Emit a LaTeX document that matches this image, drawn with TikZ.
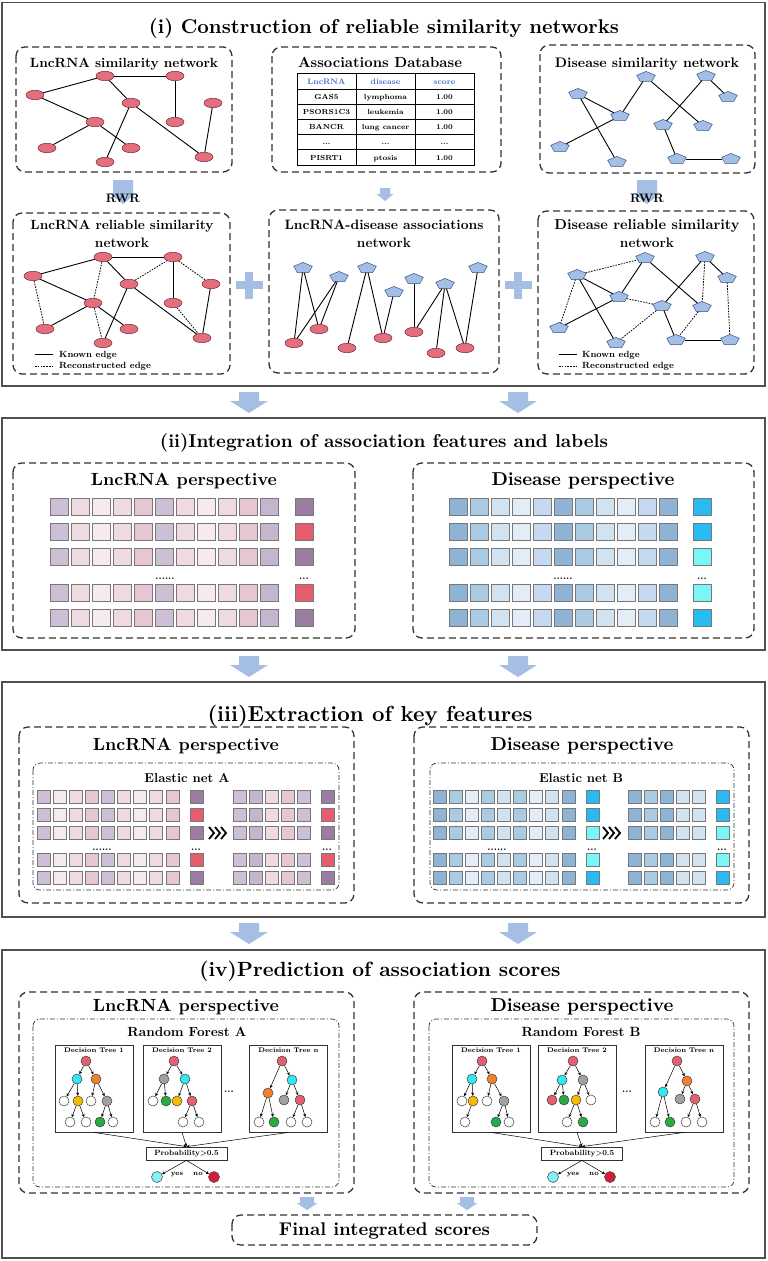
\documentclass[tikz,border=0pt]{standalone}
\usepackage{fontspec}
\usepackage{graphicx}
\usetikzlibrary{shapes.geometric,arrows.meta}

\definecolor{secline}{RGB}{80,80,80}
\definecolor{boxline}{RGB}{50,50,50}
\definecolor{arrblue}{RGB}{164,191,227}
\definecolor{lncfill}{RGB}{226,110,126}
\definecolor{lncdraw}{RGB}{120,40,55}
\definecolor{disfill}{RGB}{163,191,230}
\definecolor{disdraw}{RGB}{55,85,135}
\definecolor{hdrblue}{RGB}{70,110,205}
\definecolor{cellgray}{RGB}{120,120,120}
\definecolor{lv}{RGB}{205,192,214}
\definecolor{lw}{RGB}{196,182,206}
\definecolor{pa}{RGB}{247,234,239}
\definecolor{pb}{RGB}{240,218,226}
\definecolor{pc}{RGB}{231,198,211}
\definecolor{lpur}{RGB}{155,125,162}
\definecolor{lred}{RGB}{228,94,110}
\definecolor{ba}{RGB}{143,179,213}
\definecolor{bb}{RGB}{171,203,227}
\definecolor{bc}{RGB}{209,226,241}
\definecolor{bd}{RGB}{226,237,247}
\definecolor{be}{RGB}{199,217,240}
\definecolor{dblue}{RGB}{40,186,240}
\definecolor{dcyan}{RGB}{122,246,246}
\definecolor{tred}{RGB}{226,96,112}
\definecolor{tcyan}{RGB}{50,232,242}
\definecolor{torange}{RGB}{240,128,50}
\definecolor{tyellow}{RGB}{246,186,0}
\definecolor{tgray}{RGB}{160,160,160}
\definecolor{tgreen}{RGB}{40,170,70}
\definecolor{yescol}{RGB}{130,240,246}
\definecolor{nocol}{RGB}{212,30,60}

\newcommand{\fitw}[2]{\resizebox{#1pt}{!}{\bfseries #2}}
\newcommand{\myarrow}[6]{\fill[arrblue] ({#1-#3/2},#2) -- ({#1+#3/2},#2) -- ({#1+#3/2},{#2+#4}) -- ({#1+#5/2},{#2+#4}) -- (#1,{#2+#4+#6}) -- ({#1-#5/2},{#2+#4}) -- ({#1-#3/2},{#2+#4}) -- cycle;}
\newcommand{\cellrow}[6]{\foreach \cc [count=\kk from 0] in {#6} {\filldraw[fill=\cc,draw=cellgray,line width=0.6pt] ({#1+\kk*#3},{#2-#5/2}) rectangle ++(#4,#5);}}
\newcommand{\chev}[2]{\foreach \kk in {0,1,2} {\draw[line width=1.8pt,line join=miter] ({#1+\kk*6},{#2-6}) -- ({#1+\kk*6+5},#2) -- ({#1+\kk*6},{#2+6});}}
\newcommand{\plussign}[2]{\fill[arrblue] ({#1-13.5},{#2-4}) rectangle ({#1+13.5},{#2+4}); \fill[arrblue] ({#1-4},{#2-13.5}) rectangle ({#1+4},{#2+13.5});}

\tikzset{
 every node/.style={inner sep=0pt},
 secbox/.style={draw=secline,line width=1.5pt,fill=white},
 dbox/.style={draw=boxline,line width=1.3pt,dash pattern=on 7pt off 4pt,rounded corners=9pt},
 ddbox/.style={draw=boxline,line width=0.7pt,dash pattern=on 5pt off 2pt on 1pt off 2pt,rounded corners=7pt},
 lnode/.style={ellipse,draw=lncdraw,fill=lncfill,line width=0.5pt,minimum width=18pt,minimum height=9.5pt},
 dnode/.style={regular polygon,regular polygon sides=5,draw=disdraw,fill=disfill,line width=0.5pt,minimum size=19.5pt,yscale=0.57,transform shape},
 kedge/.style={line width=0.9pt},
 redge/.style={line width=0.8pt,dash pattern=on 1.6pt off 1.2pt},
 lab/.style={anchor=base,font=\bfseries},
 small/.style={anchor=base,font=\fontsize{13.7}{16}\selectfont\bfseries},
 tn/.style={circle,draw=black!75,line width=0.5pt,minimum size=10pt,fill=white},
 tarr/.style={-{Stealth[length=3.2pt,width=3pt]},line width=0.5pt},
 dtbox/.style={draw=black!80,line width=0.8pt,minimum width=78pt,minimum height=87pt},
 dtlab/.style={anchor=base,font=\fontsize{6.8}{8}\selectfont\bfseries},
 tbh/.style={anchor=base,font=\fontsize{8}{9}\selectfont\bfseries,text=hdrblue},
 tbt/.style={anchor=base,font=\fontsize{7.3}{8}\selectfont\bfseries},
 leg/.style={anchor=base west,font=\fontsize{9}{10}\selectfont\bfseries},
 dots/.style={anchor=base,font=\fontsize{10}{12}\selectfont\bfseries},
 probbox/.style={draw=black!80,line width=0.8pt,minimum width=81pt,minimum height=13pt,font=\fontsize{7.6}{9}\selectfont\bfseries},
}

\begin{document}
\begin{tikzpicture}[x=1pt,y=-1pt]
\useasboundingbox (0,0) rectangle (768,1261);
\fill[white] (0,0) rectangle (768,1261);

% ---------- section boxes ----------
\draw[secbox] (2,2.5) rectangle (765,386);
\draw[secbox] (2,418) rectangle (765,650);
\draw[secbox] (2,682) rectangle (765,917);
\draw[secbox] (2,950) rectangle (765,1258);

% arrows between sections
\myarrow{249}{392}{20}{9}{38}{12}
\myarrow{518}{392}{20}{9}{38}{12}
\myarrow{249}{656}{20}{9}{38}{12}
\myarrow{518}{656}{20}{9}{38}{12}
\myarrow{249}{923}{20}{9}{38}{12}
\myarrow{518}{923}{20}{9}{38}{12}

% ================= Section (i) =================
\node[lab] (ti) at (384,33) {\fitw{470}{(i) Construction of reliable similarity networks}};

\draw[dbox] (16,47) rectangle (232,172);
\draw[dbox] (272,47) rectangle (501,172);
\draw[dbox] (540,45) rectangle (755,173);
\draw[dbox] (13,213) rectangle (230,374);
\draw[dbox] (269,210) rectangle (499,373);
\draw[dbox] (538,211) rectangle (754,374);

\node[lab] (tls) at (124,67) {\fitw{188}{LncRNA similarity network}};
\node[lab] (tad) at (380,67) {\fitw{164}{Associations Database}};
\node[lab] (tds) at (647,67) {\fitw{184}{Disease similarity network}};

% RWR arrows
\myarrow{123}{180}{20}{13}{28}{11}
\myarrow{647}{180}{20}{13}{28}{11}
\myarrow{385}{188}{10}{6}{17}{7}
\node[lab] (rwra) at (123,202) {\fitw{34}{RWR}};
\node[lab] (rwrb) at (647,202) {\fitw{34}{RWR}};

\node[lab] (tlr) at (122,229.5) {\fitw{183}{LncRNA reliable similarity}};
\node[small] (tlr2) at (122,247) {network};
\node[lab] (tan) at (384,229.5) {\fitw{199}{LncRNA-disease associations}};
\node[small] (tan2) at (384,247) {network};
\node[lab] (tdr) at (647,229.5) {\fitw{185}{Disease reliable similarity}};
\node[small] (tdr2) at (647,247) {network};

% plus signs
\plussign{249}{285}
\plussign{518}{285}

% --- LncRNA similarity network (upper)
\foreach \n/\x/\y in {1/105/76,2/175/76,3/35/95,4/131/103,5/213/103,6/175/122,7/95/122,8/47/148,9/131/148,10/105/162,11/204/157}
  \node[lnode] (ua\n) at (\x,\y) {};
\foreach \u/\v in {1/2,1/3,1/4,2/6,3/7,7/8,7/9,4/10,4/11,5/11}
  \draw[kedge] (ua\u) -- (ua\v);

% --- LncRNA reliable similarity network (lower)
\foreach \n/\x/\y in {1/103/257,2/173/257,3/33/276,4/129/284,5/211/284,6/173/303,7/93/303,8/45/329,9/129/329,10/103/343,11/202/338}
  \node[lnode] (lb\n) at (\x,\y) {};
\foreach \u/\v in {1/2,1/3,1/4,2/6,3/7,7/8,7/9,4/10,4/11,5/11}
  \draw[kedge] (lb\u) -- (lb\v);
\foreach \u/\v in {3/8,1/7,7/10,4/2,2/5,6/11}
  \draw[redge] (lb\u) -- (lb\v);

% --- Disease similarity network (upper)
\foreach \n/\x/\y in {1/578/94,2/646/77,3/706/76,4/728/97,5/620/116,6/663/125,7/703/126,8/560/147,9/617/162,10/677/159,11/731/159}
  \node[dnode] (da\n) at (\x,\y) {};
\foreach \u/\v in {1/5,1/9,5/2,5/8,2/7,3/4,3/6,6/10,10/11}
  \draw[kedge] (da\u) -- (da\v);

% --- Disease reliable similarity network (lower)
\foreach \n/\x/\y in {1/577/275,2/645/258,3/705/257,4/727/278,5/619/297,6/662/306,7/702/307,8/559/328,9/616/343,10/676/340,11/730/340}
  \node[dnode] (db\n) at (\x,\y) {};
\foreach \u/\v in {1/5,1/9,5/2,5/8,2/7,3/4,3/6,6/10,10/11}
  \draw[kedge] (db\u) -- (db\v);
\foreach \u/\v in {1/2,1/8,5/6,6/9,7/10,3/7,4/11}
  \draw[redge] (db\u) -- (db\v);

% --- LncRNA-disease associations network
\foreach \n/\x/\y in {1/303/268,2/339/277,3/367/268,4/394/292,5/414/279,6/445/284,7/478/268}
  \node[dnode] (mp\n) at (\x,\y) {};
\foreach \n/\x/\y in {1/294/343,2/319/329,3/347/348,4/383/338,5/414/332,6/436/353,7/465/348}
  \node[lnode] (mc\n) at (\x,\y) {};
\foreach \u/\v in {1/1,1/2,2/1,2/2,3/3,3/4,4/4,5/5,6/5,6/6,6/7,7/7}
  \draw[kedge] (mp\u) -- (mc\v);

% legends
\draw[kedge] (35,354) -- (53,354);
\draw[redge] (35,366) -- (53,366);
\node[leg] (lka) at (59,357) {Known edge};
\node[leg] (lra) at (59,368.7) {Reconstructed edge};
\draw[kedge] (559,354) -- (577,354);
\draw[redge] (559,366) -- (577,366);
\node[leg] (lkb) at (582,357) {Known edge};
\node[leg] (lrb) at (582,368.7) {Reconstructed edge};

% --- Associations table
\draw[line width=0.9pt] (297,73) rectangle (474,165);
\foreach \yy in {89,104,119,134,149} \draw[line width=0.9pt] (297,\yy) -- (474,\yy);
\foreach \xx in {356,415} \draw[line width=0.9pt] (\xx,73) -- (\xx,165);
\node[tbh] (th1) at (326.5,84) {LncRNA};
\node[tbh] (th2) at (385.5,84) {disease};
\node[tbh] (th3) at (444.5,84) {score};
\foreach \r/\yy/\aa/\bb/\ccc in {1/99.5/GAS5/lymphoma/1.00,2/114.5/PSORS1C3/leukemia/1.00,3/129.5/BANCR/lung cancer/1.00,5/160/PISRT1/ptosis/1.00}
{
  \node[tbt] (tr\r a) at (326.5,\yy) {\aa};
  \node[tbt] (tr\r b) at (385.5,\yy) {\bb};
  \node[tbt] (tr\r c) at (444.5,\yy) {\ccc};
}
\node[tbt] (tr4a) at (326.5,144) {...};
\node[tbt] (tr4b) at (385.5,144) {...};
\node[tbt] (tr4c) at (444.5,144) {...};

% ================= Section (ii) =================
\node[lab] (tii) at (384,447) {\fitw{448}{(ii)Integration of association features and labels}};
\draw[dbox] (13,463) rectangle (355,638);
\draw[dbox] (413,463) rectangle (754,638);
\node[lab] (pl2) at (184,485) {\fitw{186}{LncRNA perspective}};
\node[lab] (pd2) at (583,485) {\fitw{183}{Disease perspective}};
\foreach \yy/\lc in {507/lpur,532/lred,557/lpur,593/lred,618/lpur} {
  \cellrow{50}{\yy}{21}{18}{17}{lv,pb,pa,pb,pc,lv,pb,pa,pb,pc,lw}
  \filldraw[fill=\lc,draw=cellgray,line width=0.6pt] (295,{\yy-8.5}) rectangle ++(18,17);
}
\foreach \yy/\lc in {507/dblue,532/dblue,557/dcyan,593/dcyan,618/dblue} {
  \cellrow{449}{\yy}{21}{18}{17}{ba,bb,bc,bd,be,ba,bb,bc,bd,be,ba}
  \filldraw[fill=\lc,draw=cellgray,line width=0.6pt] (693,{\yy-8.5}) rectangle ++(18,17);
}
\node[dots] (d2a) at (165,579) {......};
\node[dots] (d2b) at (304,579) {...};
\node[dots] (d2c) at (563,579) {......};
\node[dots] (d2d) at (702,579) {...};

% ================= Section (iii) =================
\node[lab] (tiii) at (370,721) {\fitw{325}{(iii)Extraction of key features}};
\draw[dbox] (19,727) rectangle (354,903);
\draw[dbox] (414,727) rectangle (749,903);
\draw[ddbox] (33,763) rectangle (339,890);
\draw[ddbox] (430,763) rectangle (734,890);
\node[lab] (pl3) at (186,750) {\fitw{186}{LncRNA perspective}};
\node[lab] (pd3) at (582,750) {\fitw{183}{Disease perspective}};
\node[lab] (ena) at (187,782.7) {\fitw{85}{Elastic net A}};
\node[lab] (enb) at (581,782.7) {\fitw{84}{Elastic net B}};
\foreach \yy/\lc in {797/lpur,815/lred,833/lpur,860/lred,878/lpur} {
  \cellrow{37}{\yy}{16.1}{13}{12.5}{lv,pa,pb,pc,lv,pb,pa,pb,pc}
  \filldraw[fill=\lc,draw=cellgray,line width=0.6pt] (190,{\yy-6.25}) rectangle ++(13,12.5);
  \cellrow{233}{\yy}{16.1}{13}{12.5}{lv,lw,pb,pc,lv}
  \filldraw[fill=\lc,draw=cellgray,line width=0.6pt] (321,{\yy-6.25}) rectangle ++(13,12.5);
}
\foreach \yy/\lc in {797/dblue,815/dblue,833/dcyan,860/dcyan,878/dblue} {
  \cellrow{433}{\yy}{16.1}{13}{12.5}{ba,bb,bd,bb,bc,bb,bd,bc,ba}
  \filldraw[fill=\lc,draw=cellgray,line width=0.6pt] (586,{\yy-6.25}) rectangle ++(13,12.5);
  \cellrow{628}{\yy}{16.1}{13}{12.5}{ba,bb,ba,bc,bc}
  \filldraw[fill=\lc,draw=cellgray,line width=0.6pt] (716,{\yy-6.25}) rectangle ++(13,12.5);
}
\chev{209}{833}
\chev{603}{833}
\node[dots] (d3a) at (102,850) {......};
\node[dots] (d3b) at (196,850) {...};
\node[dots] (d3c) at (327,850) {...};
\node[dots] (d3d) at (497,850) {......};
\node[dots] (d3e) at (592,850) {...};
\node[dots] (d3f) at (722,850) {...};

% ================= Section (iv) =================
\node[lab] (tiv) at (380,976.7) {\fitw{361}{(iv)Prediction of association scores}};
\draw[dbox] (19,992) rectangle (354,1193);
\draw[dbox] (414,992) rectangle (749,1193);
\draw[ddbox] (33,1019) rectangle (339,1187);
\draw[ddbox] (429,1019) rectangle (734,1187);
\node[lab] (pl4) at (186,1011.7) {\fitw{186}{LncRNA perspective}};
\node[lab] (pd4) at (582,1011.7) {\fitw{183}{Disease perspective}};
\node[lab] (rfa) at (187,1036) {\fitw{119}{Random Forest A}};
\node[lab] (rfb) at (581,1036) {\fitw{119}{Random Forest B}};

% decision tree boxes
\foreach \n/\x/\t in {a1/94/1,a2/182/2,an/288.5/n,b1/491/1,b2/577/2,bn/684/n} {
  \node[dtbox] (\n box) at (\x,1088.5) {};
  \node[dtlab] (\n lab) at (\x,1052.3) {Decision Tree \t};
}
\node[dots] (dta) at (229,1092) {...};
\node[dots] (dtb) at (627,1092) {...};

% tree nodes
\foreach \n/\x/\y/\c in {
 a1r/86/1061/tred, a1c/77/1079/tcyan, a1o/96/1079/torange, a1w1/64/1101/white, a1y/78/1101/tyellow, a1w2/91/1101/white, a1g/107/1101/tgray, a1w3/70/1122/white, a1w4/86/1122/white, a1gr/100/1122/tgreen, a1w5/113/1122/white,
 a2r/174/1061/tred, a2g/164/1079/tgray, a2c/185/1079/tcyan, a2w1/153/1101/white, a2gr/166/1101/tgreen, a2y/177/1101/tyellow, a2rd/192/1101/tred, a2w2/183/1122/white, a2w3/199/1122/white,
 anr/282/1061/tred, anc/292/1080/tcyan, ano/268/1093/torange, ang/284/1100/tgray, anrd/300/1100/tred, anw1/259/1122/white, angr/274/1122/tgreen, anw2/291/1122/white, anw3/307/1122/white,
 b1r/482/1061/tred, b1c/472/1079/tcyan, b1o/492/1079/torange, b1w1/462/1101/white, b1y/473/1101/tyellow, b1w2/487/1101/white, b1g/504/1101/tgray, b1w3/465/1122/white, b1gr/496/1122/tgreen, b1w4/509/1122/white,
 b2r/573/1061/tred, b2c/562/1080/tcyan, b2g/583/1080/tgray, b2rd/552/1100/tred, b2gr/564/1100/tgreen, b2y/576/1100/tyellow, b2w1/591/1100/white, b2w2/567/1122/white, b2gr2/583/1122/tgreen,
 bnr/677/1061/tred, bno/687/1081/torange, bnc/663/1092/tcyan, bng/680/1099/tgray, bnrd/695/1099/tred, bnw1/655/1122/white, bngr/670/1122/tgreen, bnw2/686/1122/white, bnw3/702/1122/white}
  \node[tn,fill=\c] (\n) at (\x,\y) {};

\foreach \u/\v in {
 a1r/a1c, a1r/a1o, a1c/a1w1, a1c/a1y, a1o/a1w2, a1o/a1g, a1y/a1w3, a1y/a1w4, a1g/a1gr, a1g/a1w5,
 a2r/a2g, a2r/a2c, a2g/a2w1, a2g/a2gr, a2c/a2y, a2c/a2rd, a2rd/a2w2, a2rd/a2w3,
 anr/ano, anr/anc, anc/ang, anc/anrd, ano/anw1, ano/angr, anrd/anw2, anrd/anw3,
 b1r/b1c, b1r/b1o, b1c/b1w1, b1c/b1y, b1o/b1w2, b1o/b1g, b1y/b1w3, b1g/b1gr, b1g/b1w4,
 b2r/b2c, b2r/b2g, b2c/b2rd, b2c/b2gr, b2g/b2y, b2g/b2w1, b2y/b2w2, b2y/b2gr2,
 bnr/bnc, bnr/bno, bno/bng, bno/bnrd, bnc/bnw1, bnc/bngr, bnrd/bnw2, bnrd/bnw3}
  \draw[tarr] (\u) -- (\v);

% probability boxes and outputs
\node[probbox] (pa) at (186.5,1153.5) {Probability>0.5};
\node[probbox] (pb) at (582,1153.5) {Probability>0.5};
\foreach \t in {a1,a2,an} \draw[tarr] (\t box.south) -- (pa.north);
\foreach \t in {b1,b2,bn} \draw[tarr] (\t box.south) -- (pb.north);
\node[tn,fill=yescol,minimum size=11pt] (ya) at (157,1177) {};
\node[tn,fill=nocol,minimum size=11pt] (na) at (214,1177) {};
\node[tn,fill=yescol,minimum size=11pt] (yb) at (553,1177) {};
\node[tn,fill=nocol,minimum size=11pt] (nb) at (610,1177) {};
\draw[tarr] (pa.south) -- (ya);
\draw[tarr] (pa.south) -- (na);
\draw[tarr] (pb.south) -- (yb);
\draw[tarr] (pb.south) -- (nb);
\node[anchor=base,font=\fontsize{7}{8}\selectfont\bfseries] (yla) at (177,1175) {yes};
\node[anchor=base,font=\fontsize{7}{8}\selectfont\bfseries] (nla) at (198,1175) {no};
\node[anchor=base,font=\fontsize{7}{8}\selectfont\bfseries] (ylb) at (573,1175) {yes};
\node[anchor=base,font=\fontsize{7}{8}\selectfont\bfseries] (nlb) at (594,1175) {no};

% final
\myarrow{307}{1197}{14}{6}{21}{7}
\myarrow{467}{1197}{14}{6}{21}{7}
\draw[dbox] (232,1215) rectangle (537,1245);
\node[lab] (fin) at (384.5,1235) {\fitw{211}{Final integrated scores}};
\end{tikzpicture}
\end{document}
